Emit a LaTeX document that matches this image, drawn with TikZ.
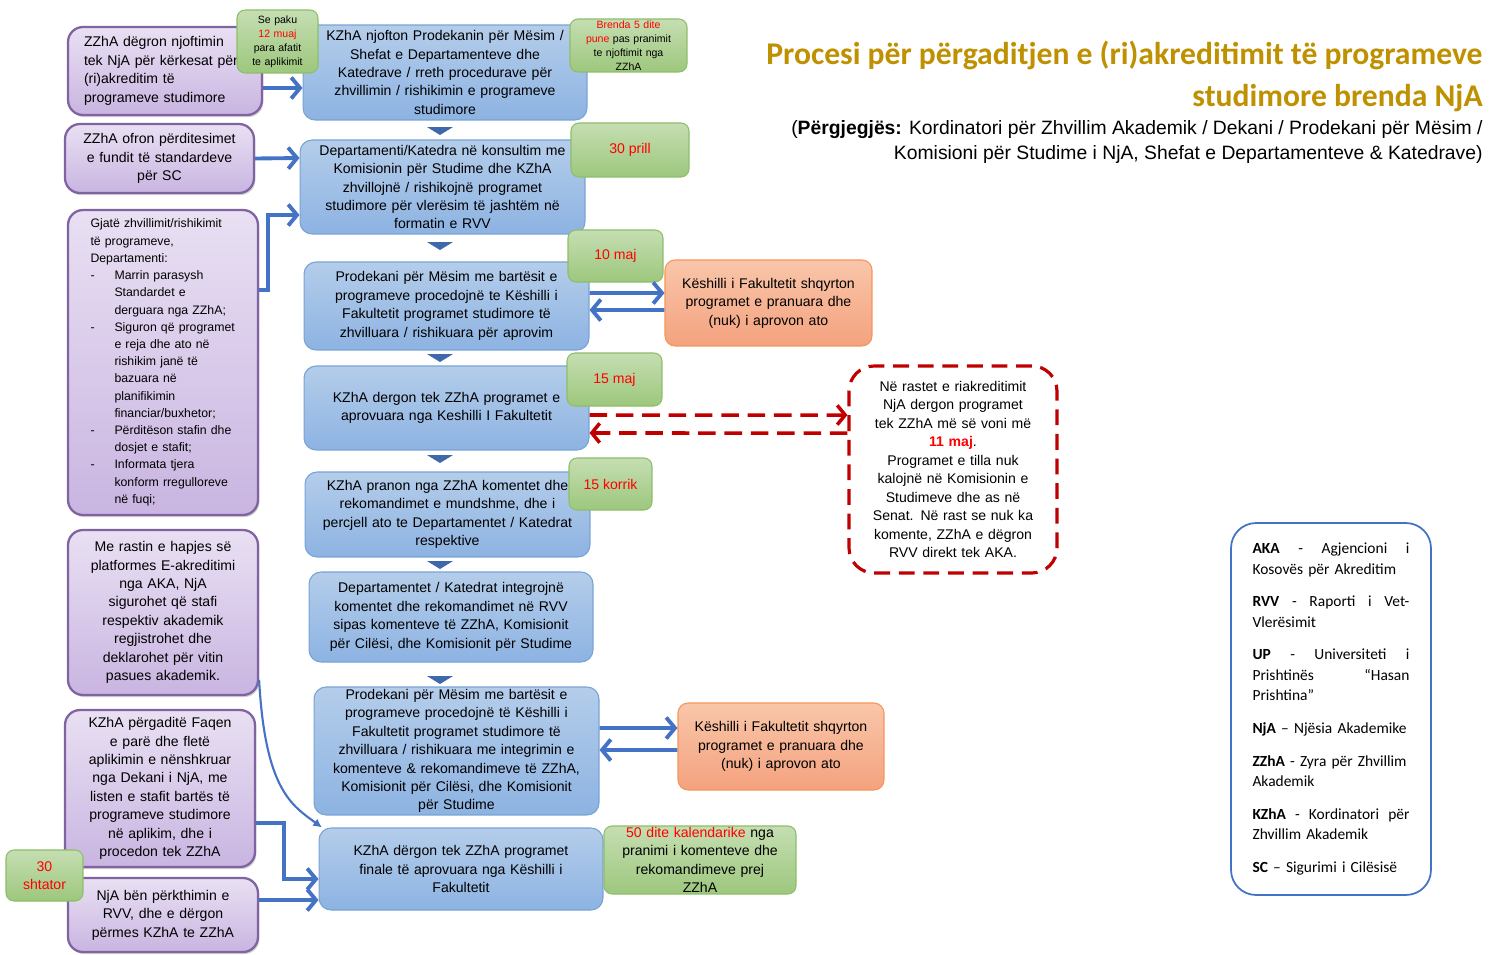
\documentclass[tikz,border=0pt]{standalone}
\usepackage{fontspec}
\setmainfont{Liberation Sans}
\newfontfamily\calib{Carlito}
\usepackage{tikz}
\usetikzlibrary{arrows.meta,calc,shadows}

\definecolor{bluetop}{RGB}{180,205,234}
\definecolor{bluebot}{RGB}{141,179,226}
\definecolor{blueline}{RGB}{120,163,214}
\definecolor{purptop}{RGB}{233,224,243}
\definecolor{purpbot}{RGB}{201,181,225}
\definecolor{purpline}{RGB}{128,100,162}
\definecolor{greentop}{RGB}{197,222,178}
\definecolor{greenbot}{RGB}{157,199,125}
\definecolor{greenline}{RGB}{141,190,106}
\definecolor{orangetop}{RGB}{249,198,170}
\definecolor{orangebot}{RGB}{244,162,126}
\definecolor{orangeline}{RGB}{245,150,90}
\definecolor{arrowblue}{RGB}{68,114,196}
\definecolor{darkred}{RGB}{192,0,0}
\definecolor{datered}{RGB}{255,0,0}
\definecolor{titlegold}{RGB}{191,144,0}
\definecolor{tricol}{RGB}{62,104,170}

\newcommand{\lsdash}{\makebox[0.48cm][l]{-}}
\newcommand{\lsind}{\hspace*{0.48cm}}

\begin{document}
\begin{tikzpicture}[x=0.02cm, y=-0.02cm,
    box/.style={align=center, inner sep=0pt, font=\fontsize{8}{10.5}\selectfont},
    bluebox/.style={box, rounded corners=0.24cm, draw=blueline, top color=bluetop, bottom color=bluebot, line width=0.6pt},
    purpbox/.style={box, rounded corners=0.3cm, draw=purpline, top color=purptop, bottom color=purpbot, line width=1.3pt,
        drop shadow={opacity=0.35, shadow xshift=0.8pt, shadow yshift=-1.2pt}},
    greenbox/.style={box, rounded corners=0.16cm, draw=greenline, top color=greentop, bottom color=greenbot, line width=0.6pt},
    orangebox/.style={box, rounded corners=0.2cm, draw=orangeline, top color=orangetop, bottom color=orangebot, line width=0.6pt},
    dashbox/.style={box, rounded corners=0.5cm, draw=darkred, fill=white, line width=1.8pt, dash pattern=on 9pt off 5pt},
    bluearrow/.style={draw=arrowblue, line width=2.2pt, -{Straight Barb[length=5pt,width=12pt]}},
    redarrow/.style={draw=darkred, line width=2pt, dash pattern=on 10pt off 5pt, -{Straight Barb[length=4.5pt,width=11pt]}},
    date/.style={text=datered}
  ]
  \path[use as bounding box, fill=white] (0,0) rectangle (1502,954);

  % title
  \node[anchor=north east, align=right, inner sep=0pt, text=titlegold,
        font=\calib\bfseries\fontsize{18}{23.8}\selectfont] (title) at (1483,41)
        {Procesi për përgaditjen e (ri)akreditimit të programeve\\studimore brenda NjA};
  \node[anchor=north east, align=right, inner sep=0pt,
        font=\fontsize{11}{14.2}\selectfont] (resp) at (1483,120)
        {(\textbf{Përgjegjës:} Kordinatori për Zhvillim Akademik / Dekani / Prodekani për Mësim /\\
         Komisioni për Studime i NjA, Shefat e Departamenteve \& Katedrave)};

  % left column
  \node[purpbox, minimum width=3.88cm, minimum height=1.76cm, text width=3.24cm, align=left] (P1) at (165,71)
    {ZZhA dëgron njoftimin\\tek NjA për kërkesat për\\(ri)akreditim të\\programeve studimore};
  \node[purpbox, minimum width=3.78cm, minimum height=1.38cm, text width=3.6cm] (P2) at (159.5,158.5)
    {ZZhA ofron përditesimet\\e fundit të standardeve\\për SC};
  \node[purpbox, minimum width=3.8cm, minimum height=6.1cm, text width=2.9cm, align=left,
        font=\fontsize{7}{9.8}\selectfont] (P3) at (163,362.5)
    {Gjatë zhvillimit/rishikimit\\të programeve,\\Departamenti:\\
     \lsdash Marrin parasysh\\\lsind Standardet e\\\lsind derguara nga ZZhA;\\
     \lsdash Siguron që programet\\\lsind e reja dhe ato në\\\lsind rishikim janë të\\\lsind bazuara në\\\lsind planifikimin\\\lsind financiar/buxhetor;\\
     \lsdash Përditëson stafin dhe\\\lsind dosjet e stafit;\\
     \lsdash Informata tjera\\\lsind konform rregulloreve\\\lsind në fuqi;};
  \node[purpbox, minimum width=3.8cm, minimum height=3.3cm, text width=3.6cm] (P4) at (163,612.5)
    {Me rastin e hapjes së\\platformes E-akreditimi\\nga AKA, NjA\\sigurohet që stafi\\respektiv akademik\\regjistrohet dhe\\deklarohet për vitin\\pasues akademik.};
  \node[purpbox, minimum width=3.8cm, minimum height=3.14cm, text width=3.6cm] (P5) at (160,788.5)
    {KZhA përgaditë Faqen\\e parë dhe fletë\\aplikimin e nënshkruar\\nga Dekani i NjA, me\\listen e stafit bartës të\\programeve studimore\\në aplikim, dhe i\\procedon tek ZZhA};
  \node[purpbox, minimum width=3.8cm, minimum height=1.48cm, text width=3.6cm] (P6) at (163,915)
    {NjA bën përkthimin e\\RVV, dhe e dërgon\\përmes KZhA te ZZhA};

  % main steps
  \node[bluebox, minimum width=5.68cm, minimum height=1.9cm, text width=5.5cm] (B1) at (445,72.5)
    {KZhA njofton Prodekanin për Mësim /\\Shefat e Departamenteve dhe\\Katedrave / rreth procedurave për\\zhvillimin / rishikimin e programeve\\studimore};
  \node[bluebox, minimum width=5.7cm, minimum height=1.88cm, text width=5.5cm] (B2) at (442.5,187)
    {Departamenti/Katedra në konsultim me\\Komisionin për Studime dhe KZhA\\zhvillojnë / rishikojnë programet\\studimore për vlerësim të jashtëm në\\formatin e RVV};
  \node[bluebox, minimum width=5.7cm, minimum height=1.76cm, text width=5.5cm] (B3) at (446.5,306)
    {Prodekani për Mësim me bartësit e\\programeve procedojnë te Këshilli i\\Fakultetit programet studimore të\\zhvilluara / rishikuara për aprovim};
  \node[bluebox, minimum width=5.7cm, minimum height=1.68cm, text width=5.5cm] (B4) at (446.5,408)
    {KZhA dergon tek ZZhA programet e\\aprovuara nga Keshilli I Fakultetit};
  \node[bluebox, minimum width=5.7cm, minimum height=1.7cm, text width=5.5cm] (B5) at (447.5,514.5)
    {KZhA pranon nga ZZhA komentet dhe\\rekomandimet e mundshme, dhe i\\percjell ato te Departamentet / Katedrat\\respektive};
  \node[bluebox, minimum width=5.68cm, minimum height=1.8cm, text width=5.5cm] (B6) at (451,617)
    {Departamentet / Katedrat integrojnë\\komentet dhe rekomandimet në RVV\\sipas komenteve të ZZhA, Komisionit\\për Cilësi, dhe Komisionit për Studime};
  \node[bluebox, minimum width=5.7cm, minimum height=2.56cm, text width=5.5cm] (B7) at (456.5,751)
    {Prodekani për Mësim me bartësit e\\programeve procedojnë të Këshilli i\\Fakultetit programet studimore të\\zhvilluara / rishikuara me integrimin e\\komenteve \& rekomandimeve të ZZhA,\\Komisionit për Cilësi, dhe Komisionit\\për Studime};
  \node[bluebox, minimum width=5.68cm, minimum height=1.64cm, text width=5.5cm] (B8) at (461,869)
    {KZhA dërgon tek ZZhA programet\\finale të aprovuara nga Këshilli i\\Fakultetit};

  % council and re-accreditation boxes
  \node[orangebox, minimum width=4.14cm, minimum height=1.72cm, text width=4.0cm] (O1) at (768.5,303)
    {Këshilli i Fakultetit shqyrton\\programet e pranuara dhe\\(nuk) i aprovon ato};
  \node[orangebox, minimum width=4.12cm, minimum height=1.74cm, text width=4.0cm] (O2) at (781,746.5)
    {Këshilli i Fakultetit shqyrton\\programet e pranuara dhe\\(nuk) i aprovon ato};
  \node[dashbox, minimum width=4.16cm, minimum height=4.14cm, text width=4.0cm] (D) at (953,469.5)
    {Në rastet e riakreditimit\\NjA dergon programet\\tek ZZhA më së voni më\\\textcolor{datered}{\textbf{11 maj}}.\\Programet e tilla nuk\\kalojnë në Komisionin e\\Studimeve dhe as në\\Senat. Në rast se nuk ka\\komente, ZZhA e dëgron\\RVV direkt tek AKA.};

  % deadlines
  \node[greenbox, minimum width=1.62cm, minimum height=1.26cm, text width=1.5cm,
        font=\fontsize{6}{7.9}\selectfont] (G1) at (277.5,41.5)
    {Se paku\\\textcolor{datered}{12 muaj}\\para afatit\\te aplikimit};
  \node[greenbox, minimum width=2.34cm, minimum height=1.06cm, text width=2.2cm,
        font=\fontsize{6}{7.9}\selectfont] (G2) at (628.5,45.5)
    {\textcolor{datered}{Brenda 5 dite}\\\textcolor{datered}{pune} pas pranimit\\te njoftimit nga\\ZZhA};
  \node[greenbox, date, minimum width=2.36cm, minimum height=1.08cm] (G3) at (630,150) {30 prill};
  \node[greenbox, date, minimum width=1.9cm, minimum height=1.04cm] (G4) at (615.5,256) {10 maj};
  \node[greenbox, date, minimum width=1.9cm, minimum height=1.06cm] (G5) at (614.5,379.5) {15 maj};
  \node[greenbox, date, minimum width=1.66cm, minimum height=1.04cm] (G6) at (610.5,484) {15 korrik};
  \node[greenbox, date, minimum width=1.54cm, minimum height=1.02cm] (G7) at (44.5,875.5) {30\\shtator};
  \node[greenbox, minimum width=3.84cm, minimum height=1.36cm, text width=3.7cm] (G8) at (700,860)
    {\textcolor{datered}{50 dite kalendarike} nga\\pranimi i komenteve dhe\\rekomandimeve prej\\ZZhA};

  % legend
  \node[draw=arrowblue, line width=1pt, rounded corners=0.5cm, fill=white, inner sep=0pt,
        minimum width=4.0cm, minimum height=7.44cm, text width=3.14cm, align=left,
        font=\calib\fontsize{8.8}{11.6}\selectfont] (L) at (1331,709)
    {\textbf{AKA}\hfill-\hfill Agjencioni\hfill i\\Kosovës për Akreditim\\[7pt]
     \textbf{RVV}\hfill-\hfill Raporti\hfill i\hfill Vet-\\Vlerësimit\\[7pt]
     \textbf{UP}\hfill-\hfill Universiteti\hfill i\\Prishtinës\hfill “Hasan\\Prishtina”\\[7pt]
     \mbox{\textbf{NjA} – Njësia Akademike}\\[7pt]
     \mbox{\textbf{ZZhA} - Zyra për Zhvillim}\\Akademik\\[7pt]
     \textbf{KZhA}\hfill-\hfill Kordinatori\hfill për\\Zhvillim Akademik\\[7pt]
     \textbf{SC} – Sigurimi i Cilësisë};

  % flow markers between the steps
  \foreach \y in {131,246,358,459,565,680} {
    \fill[tricol] (427,\y-4) -- (453,\y-4) -- (440,\y+4) -- cycle;
  }

  % arrows
  \draw[bluearrow] ([yshift=-0.34cm]P1.east) -- ([yshift=-0.31cm]B1.west);
  \draw[bluearrow] (P2.east) -- ([yshift=0.58cm]B2.west);
  \draw[bluearrow] ([yshift=1.45cm]P3.east) -- ++(9,0) |- ([yshift=-0.56cm]B2.west);
  \draw[draw=arrowblue, line width=1.2pt, -{Latex[length=5pt,width=5pt]}]
    ([yshift=-1.35cm]P4.east) .. controls +(6,110) and +(-30,-22) .. ([xshift=2pt]B8.north west);
  \draw[bluearrow] ([yshift=-0.69cm]P5.east) -- ++(28,0) |- ([yshift=-0.2cm]B8.west);
  \draw[bluearrow] ([yshift=0.3cm]P6.east) -- ([yshift=-0.62cm]B8.west);

  \draw[bluearrow] ([yshift=0.26cm]B3.east) -- ([yshift=0.2cm]O1.west);
  \draw[bluearrow] ([yshift=-0.14cm]O1.west) -- ([yshift=-0.08cm]B3.east);
  \draw[bluearrow] ([yshift=0.46cm]B7.east) -- ([yshift=0.37cm]O2.west);
  \draw[bluearrow] ([yshift=-0.07cm]O2.west) -- ([yshift=0.02cm]B7.east);

  \draw[redarrow] ([yshift=-0.14cm]B4.east) -- ([yshift=1.09cm]D.west);
  \draw[redarrow] ([yshift=0.73cm]D.west) -- ([yshift=-0.5cm]B4.east);
\end{tikzpicture}
\end{document}
